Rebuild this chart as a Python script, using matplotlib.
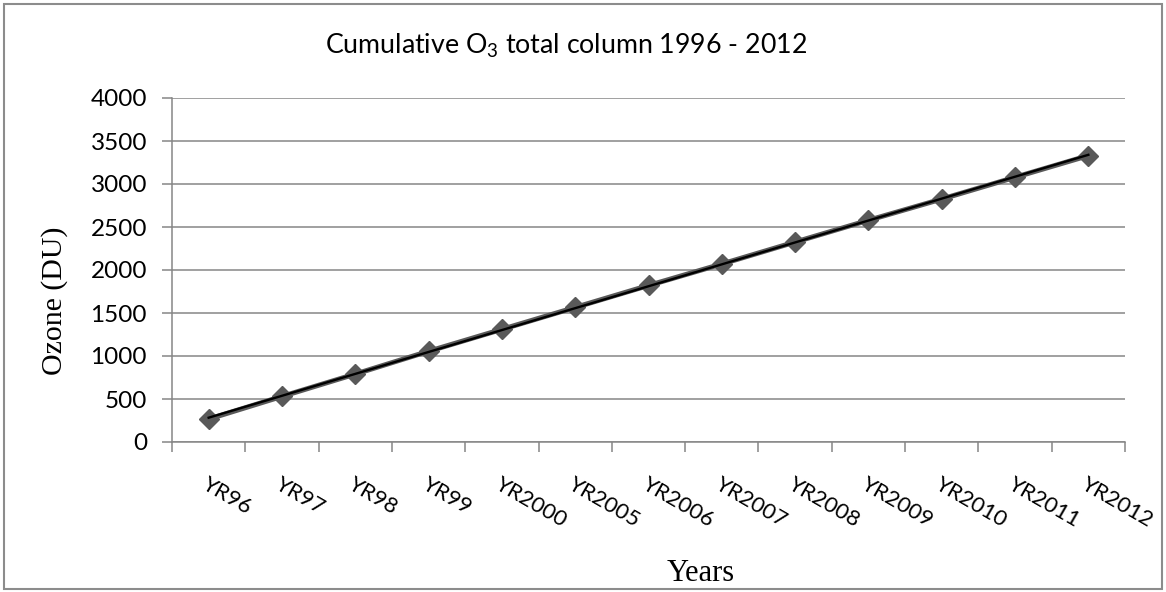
import matplotlib

matplotlib.use("Agg")
import matplotlib.pyplot as plt
import numpy as np
from matplotlib.patches import Rectangle

ANOS = ["YR96", "YR97", "YR98", "YR99", "YR2000", "YR2005", "YR2006",
        "YR2007", "YR2008", "YR2009", "YR2010", "YR2011", "YR2012"]
OZONO = [267, 530, 790, 1055, 1310, 1565, 1820, 2070, 2325, 2578, 2825, 3078, 3330]
Y_TICKS = [0, 500, 1000, 1500, 2000, 2500, 3000, 3500, 4000]

GRIS = "#868686"
SERIE = "#595959"

plt.rcParams["font.family"] = ["Lato", "DejaVu Sans"]
plt.rcParams["mathtext.fontset"] = "custom"
plt.rcParams["mathtext.rm"] = "Lato"

fig = plt.figure(figsize=(11.66, 5.92), dpi=100)
fig.patch.set_facecolor("white")
ax = fig.add_axes((172 / 1166, 1 - 442 / 592, 953 / 1166, 344 / 592))

x = np.arange(len(ANOS))
ax.plot(x, OZONO, color=SERIE, lw=3.6, marker="D", ms=10.5, mfc=SERIE,
        mec=SERIE, zorder=3)
# linea de tendencia lineal (como en Excel)
coef = np.polyfit(x, OZONO, 1)
ax.plot(x, np.polyval(coef, x), color="black", lw=1.7, zorder=4)

ax.set_xlim(-0.5, len(ANOS) - 0.5)
ax.set_ylim(0, 4000)
ax.set_yticks(Y_TICKS)
ax.yaxis.grid(True, color=GRIS, lw=1.1)
ax.set_axisbelow(True)

ax.set_xticks(np.arange(-0.5, len(ANOS)), [])
ax.set_xticks(x, ANOS, minor=True)
ax.tick_params(axis="x", which="major", length=7, width=1.1, color=GRIS,
               direction="out")
ax.tick_params(axis="x", which="minor", length=0, pad=23, labelsize=16)
ax.tick_params(axis="y", length=7, width=1.1, color=GRIS, labelsize=17.5, pad=11)
for etiqueta in ax.get_xticklabels(minor=True):
    etiqueta.set_rotation(-30)
    etiqueta.set_ha("left")
    etiqueta.set_va("top")
    etiqueta.set_rotation_mode("anchor")

for lado in ("top", "right"):
    ax.spines[lado].set_visible(False)
for lado in ("left", "bottom"):
    ax.spines[lado].set_color(GRIS)
    ax.spines[lado].set_linewidth(1.1)

ax.set_ylabel("Ozone (DU)", family="Liberation Serif", fontsize=21.5)
ax.yaxis.set_label_coords(-0.109, 0.41)
ax.set_xlabel("Years", family="Liberation Serif", fontsize=22)
ax.xaxis.set_label_coords(0.555, -0.34)

fig.text(566 / 1166, 1 - 46 / 592, r"Cumulative O$_3$ total column 1996 - 2012",
         ha="center", va="center", fontsize=19.3)

fig.patches.append(Rectangle((4 / 1166, 3 / 592), 1158 / 1166, 585 / 592,
                             transform=fig.transFigure, fill=False,
                             edgecolor="#8c8c8c", lw=1.5))

fig.savefig("out.png", dpi=100, facecolor="white")
